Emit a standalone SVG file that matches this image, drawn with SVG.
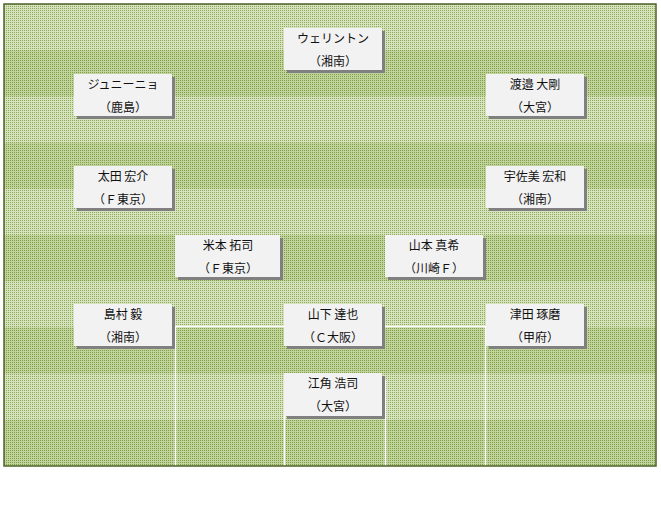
<svg xmlns="http://www.w3.org/2000/svg" width="661" height="512" viewBox="0 0 661 512">
<defs>
<pattern id="pl" width="2" height="2" patternUnits="userSpaceOnUse"><rect width="2" height="2" fill="#d7e3bf"/><rect width="1" height="1" fill="#8dab58"/></pattern>
<pattern id="pd" width="2" height="2" patternUnits="userSpaceOnUse"><rect width="2" height="2" fill="#c0d39b"/><rect width="1" height="1" fill="#819f4a"/></pattern>
</defs>
<style>
.sh{fill:#808080}
.bx{fill:#f2f2f2}
.t{font-family:"Noto Sans CJK JP","Noto Sans CJK SC",sans-serif;font-size:12px;fill:#111;text-anchor:middle}
.wl{stroke:#ffffff;stroke-width:1.5;fill:none}
</style>
<rect width="661" height="512" fill="#ffffff"/>
<g id="field">
<rect x="4" y="4" width="652" height="462" fill="url(#pl)"/>
<rect x="4" y="50.2" width="652" height="46.2" fill="url(#pd)"/>
<rect x="4" y="142.6" width="652" height="46.2" fill="url(#pd)"/>
<rect x="4" y="235" width="652" height="46.2" fill="url(#pd)"/>
<rect x="4" y="327.4" width="652" height="46.2" fill="url(#pd)"/>
<rect x="4" y="419.8" width="652" height="46.2" fill="url(#pd)"/>
<path class="wl" d="M175.5,466V326.5H485.5V466M284.5,466V380M385.5,466V380"/>
<rect x="4" y="4" width="652" height="462" fill="none" stroke="#4f6228" stroke-width="1.5"/>
</g>
<g id="connectors"></g>
<g id="n1"><rect class="sh" x="287" y="31" width="98" height="42"/><rect class="bx" x="284" y="28" width="98" height="42"/><text class="t" x="333" y="43">ウェリントン</text><text class="t" x="333" y="66">（湘南）</text></g>
<g id="n2"><rect class="sh" x="77" y="77" width="98" height="42"/><rect class="bx" x="74" y="74" width="98" height="42"/><text class="t" x="123" y="89">ジュニーニョ</text><text class="t" x="123" y="112">（鹿島）</text></g>
<g id="n3"><rect class="sh" x="489" y="77" width="98" height="42"/><rect class="bx" x="486" y="74" width="98" height="42"/><text class="t" x="535" y="89">渡邉 大剛</text><text class="t" x="535" y="112">（大宮）</text></g>
<g id="n4"><rect class="sh" x="77" y="169" width="98" height="42"/><rect class="bx" x="74" y="166" width="98" height="42"/><text class="t" x="123" y="181">太田 宏介</text><text class="t" x="123" y="204">（Ｆ東京）</text></g>
<g id="n5"><rect class="sh" x="489" y="169" width="98" height="42"/><rect class="bx" x="486" y="166" width="98" height="42"/><text class="t" x="535" y="181">宇佐美 宏和</text><text class="t" x="535" y="204">（湘南）</text></g>
<g id="n6"><rect class="sh" x="178" y="238" width="105" height="42"/><rect class="bx" x="175" y="235" width="105" height="42"/><text class="t" x="228" y="250">米本 拓司</text><text class="t" x="228" y="273">（Ｆ東京）</text></g>
<g id="n7"><rect class="sh" x="388" y="238" width="98" height="42"/><rect class="bx" x="385" y="235" width="98" height="42"/><text class="t" x="434" y="250">山本 真希</text><text class="t" x="434" y="273">（川崎Ｆ）</text></g>
<g id="n8"><rect class="sh" x="77" y="307" width="98" height="42"/><rect class="bx" x="74" y="304" width="98" height="42"/><text class="t" x="123" y="319">島村 毅</text><text class="t" x="123" y="342">（湘南）</text></g>
<g id="n9"><rect class="sh" x="287" y="307" width="98" height="42"/><rect class="bx" x="284" y="304" width="98" height="42"/><text class="t" x="333" y="319">山下 達也</text><text class="t" x="333" y="342">（Ｃ大阪）</text></g>
<g id="n10"><rect class="sh" x="489" y="307" width="98" height="42"/><rect class="bx" x="486" y="304" width="98" height="42"/><text class="t" x="535" y="319">津田 琢磨</text><text class="t" x="535" y="342">（甲府）</text></g>
<g id="n11"><rect class="sh" x="287" y="376" width="98" height="43"/><rect class="bx" x="284" y="373" width="98" height="43"/><text class="t" x="333" y="388">江角 浩司</text><text class="t" x="333" y="411">（大宮）</text></g>
</svg>
